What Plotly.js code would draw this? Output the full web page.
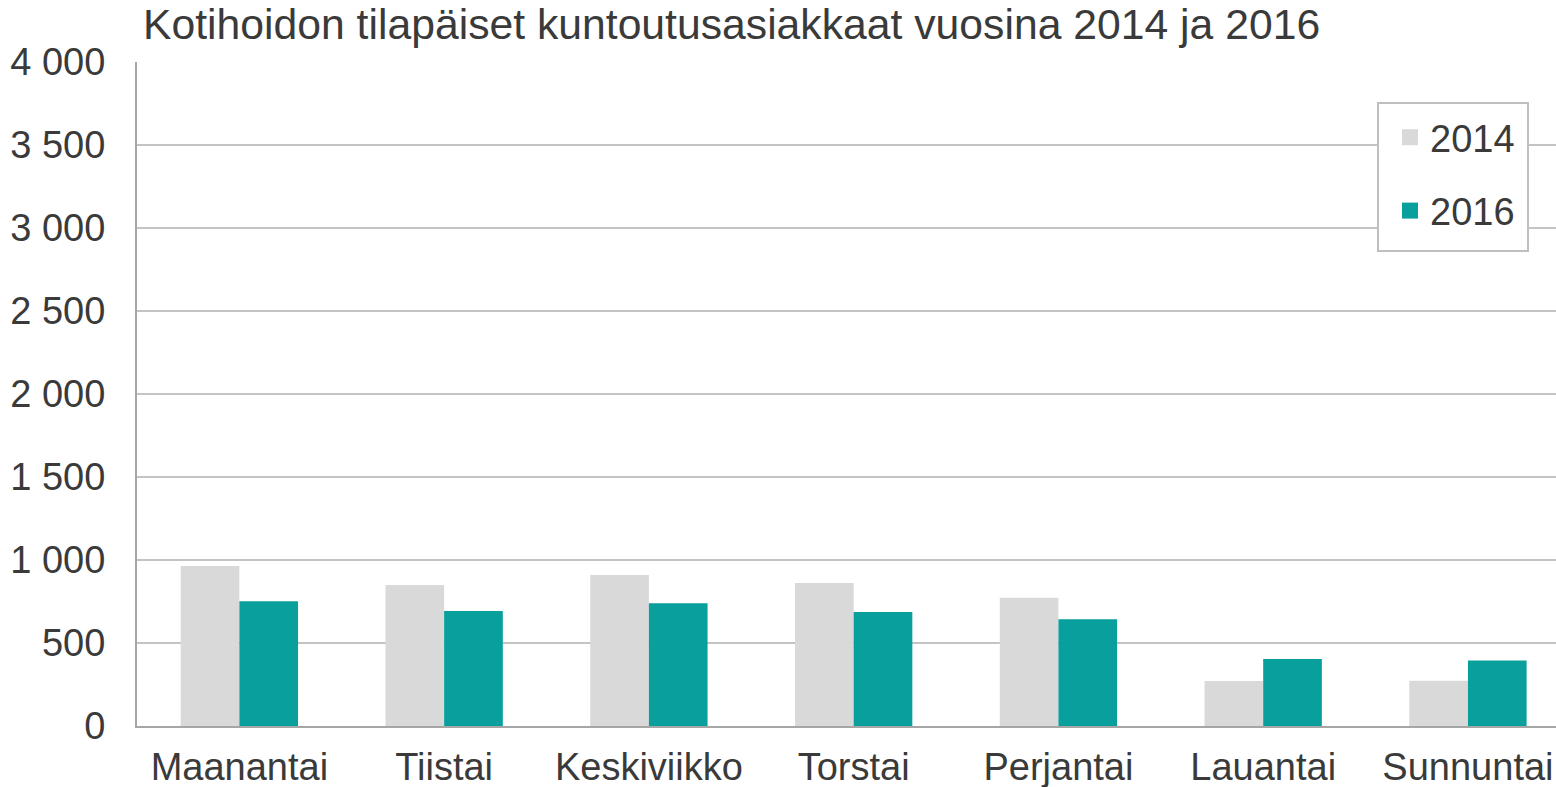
<!DOCTYPE html>
<html>
<head>
<meta charset="utf-8">
<script src="https://cdn.plot.ly/plotly-3.0.1.min.js"></script>
<style>html,body{margin:0;padding:0;background:#fff;overflow:hidden}#chart{width:1556px;height:787px}</style>
</head>
<body>
<div id="chart"></div>
<script>
const categories = ["Maanantai", "Tiistai", "Keskiviikko", "Torstai", "Perjantai", "Lauantai", "Sunnuntai"];
const values2014 = [964, 849, 910, 861, 773, 271, 273];
const values2016 = [751, 693, 739, 687, 643, 404, 394];
const seriesNames = ["2014", "2016"];
const seriesColors = ["#d9d9d9", "#089f9c"];
const titleText = "Kotihoidon tilapäiset kuntoutusasiakkaat vuosina 2014 ja 2016";

const font = "Liberation Sans, Arial, sans-serif";
const textColor = "#3a3a3a";

// plot area in pixels: left 137, right 1556, top 62, bottom 726
const px = v => (v - 137) / 1419;
const py = v => (726 - v) / 664;

const data = [
  {type: "bar", name: seriesNames[0], x: categories, y: values2014,
   marker: {color: seriesColors[0]}, showlegend: false, hoverinfo: "y"},
  {type: "bar", name: seriesNames[1], x: categories, y: values2016,
   marker: {color: seriesColors[1]}, showlegend: false, hoverinfo: "y"},
  {type: "scatter", mode: "markers", name: seriesNames[0], x: [categories[0]], y: [null],
   marker: {symbol: "square", size: 18, color: seriesColors[0]}, legendgroup: "a", hoverinfo: "skip"},
  {type: "scatter", mode: "markers", name: seriesNames[1], x: [categories[0]], y: [null],
   marker: {symbol: "square", size: 18, color: seriesColors[1]}, legendgroup: "b", hoverinfo: "skip"}
];

const layout = {
  width: 1556, height: 787,
  margin: {l: 137, r: 0, t: 62, b: 61},
  paper_bgcolor: "#fff", plot_bgcolor: "#fff",
  separators: ", ",
  font: {family: font, size: 38, color: textColor},
  title: {text: titleText, font: {family: font, size: 42.7, color: textColor},
          xref: "container", x: 143/1556, xanchor: "left",
          yref: "container", y: 1 - 9/787, yanchor: "top", pad: {t: 0, b: 0, l: 0, r: 0}},
  barmode: "group", bargap: 0.427, bargroupgap: 0,
  xaxis: {type: "category", range: [-0.5, 6.43], showgrid: false,
          showline: true, linecolor: "#a6a6a6", linewidth: 2,
          ticks: "", tickfont: {family: font, size: 38, color: textColor},
          ticklabelstandoff: 6, fixedrange: true},
  yaxis: {range: [0, 4000], dtick: 500, tick0: 0, tickformat: ",d",
          showgrid: true, gridcolor: "#c4c4c4", gridwidth: 2,
          showline: true, linecolor: "#a6a6a6", linewidth: 2,
          zeroline: false, ticks: "", tickfont: {family: font, size: 38, color: textColor},
          ticklabelstandoff: 22, fixedrange: true},
  shapes: [{type: "rect", xref: "paper", yref: "paper", layer: "above",
            x0: px(1378), x1: px(1528), y0: py(251), y1: py(103),
            fillcolor: "#fff", line: {color: "#bfbfbf", width: 2}}],
  legend: {x: px(1390), xanchor: "left", y: py(106), yanchor: "top",
           bgcolor: "rgba(0,0,0,0)", borderwidth: 0,
           font: {family: font, size: 38, color: textColor},
           traceorder: "grouped", tracegroupgap: 21, itemwidth: 30, itemsizing: "trace"},
  showlegend: true
};

Plotly.newPlot("chart", data, layout, {displayModeBar: false, staticPlot: true});
</script>
</body>
</html>
